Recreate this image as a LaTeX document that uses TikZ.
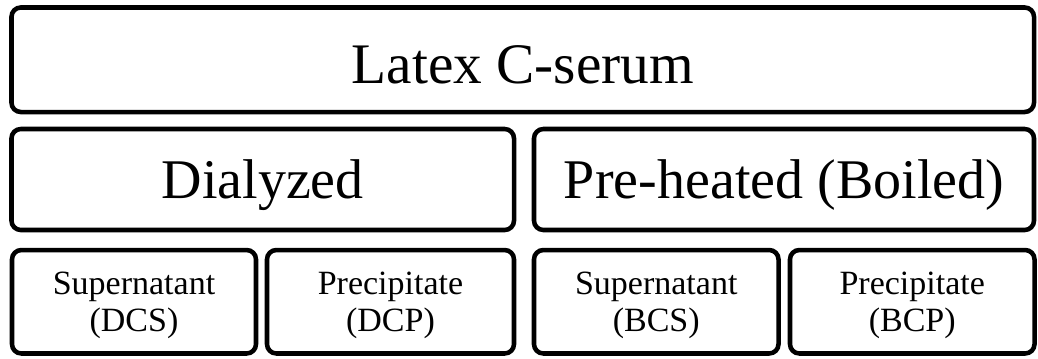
\documentclass[tikz,border=0pt]{standalone}
\usepackage{fontspec}
\setmainfont{Liberation Serif}
\begin{document}
\begin{tikzpicture}[x=0.75pt,y=-0.75pt,
  box/.style={draw=black,line width=3.4pt,rounded corners=7pt,inner sep=0pt,align=center,fill=white},
  toptext/.style={font=\fontsize{43}{50}\selectfont,text height=36pt,text depth=0pt},
  bigtext/.style={font=\fontsize{42}{50}\selectfont,text height=27.8pt,text depth=0pt},
  smalltext/.style={font=\fontsize{25.5}{28}\selectfont,text depth=0pt}]
\useasboundingbox (0,0) rectangle (1038,358);
\node[box,toptext,minimum width=766.9pt,minimum height=78.4pt] (top) at (522.75,59.75) {Latex C-serum};
\node[box,bigtext,minimum width=376.9pt,minimum height=75.75pt] (dial) at (262.75,179.5) {Dialyzed};
\node[box,bigtext,minimum width=375pt,minimum height=75.75pt] (heat) at (784,179.5) {Pre-heated (Boiled)};
\node[box,smalltext,minimum width=183pt,minimum height=77.6pt] (dcs) at (134,301.75) {Supernatant\\(DCS)};
\node[box,smalltext,minimum width=185.25pt,minimum height=77.6pt] (dcp) at (390.5,301.75) {Precipitate\\(DCP)};
\node[box,smalltext,minimum width=183.4pt,minimum height=77.6pt] (bcs) at (656.25,301.75) {Supernatant\\(BCS)};
\node[box,smalltext,minimum width=183.4pt,minimum height=77.6pt] (bcp) at (912.25,301.75) {Precipitate\\(BCP)};
\end{tikzpicture}
\end{document}
